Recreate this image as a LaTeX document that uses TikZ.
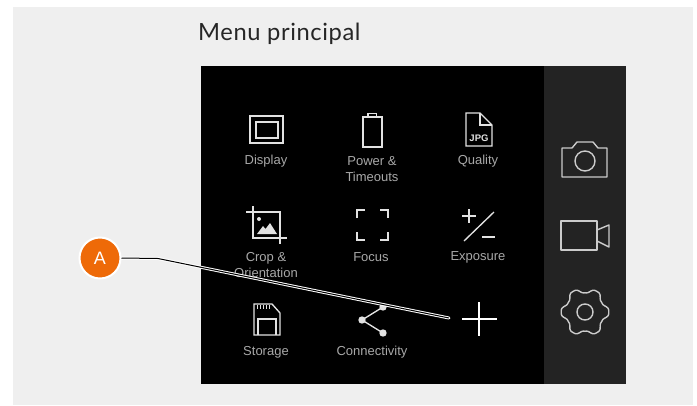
\documentclass[tikz,border=0pt]{standalone}
\usepackage{fontspec}
\setmainfont{Liberation Sans}
\newfontfamily\titlefont[LetterSpace=2.5]{Lato}
\definecolor{pagegrey}{HTML}{EFEFEF}
\definecolor{paneldark}{HTML}{232323}
\definecolor{labelgrey}{HTML}{A8A8A8}
\definecolor{iconline}{HTML}{E2E2E2}
\definecolor{badge}{HTML}{EE6A08}
\tikzset{
  icon/.style={draw=iconline,line width=1.35pt,line join=miter},
  sideicon/.style={draw=iconline!90!black,line width=1.4pt,line join=round},
  menulabel/.style={text=labelgrey,font=\fontsize{13}{15}\selectfont,align=center,inner sep=0pt,anchor=center},
}
\begin{document}
\begin{tikzpicture}[x=1pt,y=-1pt]
\useasboundingbox (0,0) rectangle (697,405);
\fill[white] (0,0) rectangle (697,405);
\fill[pagegrey] (13,7) rectangle (693,405);
\fill[black] (201,66) rectangle (544,384);
\fill[paneldark] (544,66) rectangle (626,384);
\node[anchor=base west,inner sep=0pt,text=black!85,font=\titlefont\fontsize{23.7}{26}\selectfont] (title) at (198,40) {Menu principal};
% Display
\draw[icon] (250,116) rectangle (283,143);
\draw[icon] (256,122) rectangle (278,138);
\node[menulabel] (display) at (266,161.5) {Display};
% Battery
\draw[icon] (363,117) rectangle (382,147);
\draw[icon] (368,117) -- (368,113.5) -- (376.5,113.5) -- (376.5,117);
\node[menulabel] (power) at (372,169.5) {Power \&\\[1pt]Timeouts};
% JPG
\draw[icon] (466,113) -- (480,113) -- (492,125) -- (492,146) -- (466,146) -- cycle;
\draw[icon] (480,113) -- (480,125) -- (492,125);
\node[inner sep=0pt,text=iconline,font=\bfseries\fontsize{9.5}{9.5}\selectfont] (jpg) at (479,138) {JPG};
\node[menulabel] (quality) at (478,161.5) {Quality};
% Crop
\draw[icon] (246,212) -- (280,212) -- (280,244);
\draw[icon] (253,206) -- (253,238) -- (287,238);
\fill[iconline] (257,234) -- (263,226) -- (265.5,229) -- (270,223) -- (277,234) -- cycle;
\fill[iconline] (259,219) circle (2);
\node[menulabel] (crop) at (266,265) {Crop \&\\[1pt]Orientation};
% Focus
\draw[icon] (357,218) -- (357,210) -- (365,210);
\draw[icon] (380,210) -- (388,210) -- (388,218);
\draw[icon] (357,232) -- (357,240) -- (365,240);
\draw[icon] (380,240) -- (388,240) -- (388,232);
\node[menulabel] (focus) at (371,257.5) {Focus};
% Exposure
\draw[icon] (462,216) -- (476,216);
\draw[icon] (469,209) -- (469,223);
\draw[icon] (464,241) -- (494,212);
\draw[icon] (482,237) -- (495,237);
\node[menulabel] (exposure) at (478,257.5) {Exposure};
% Storage
\draw[icon] (254,304) -- (272,304) -- (280,313) -- (280,335) -- (254,335) -- cycle;
\draw[icon] (258,335) -- (258,319) -- (276,319) -- (276,335);
\foreach \tx in {257,260,263,266,269}{\draw[draw=iconline,line width=1pt] (\tx,305) -- (\tx,309);}
\node[menulabel] (storage) at (266,352) {Storage};
% Connectivity
\coordinate (hub) at (362,320);
\coordinate (leafa) at (383,307);
\coordinate (leafb) at (383,333);
\draw[icon] (leafa) -- (hub) -- (leafb);
\fill[iconline] (hub) circle (3.7) (leafa) circle (3.7) (leafb) circle (3.7);
\node[menulabel] (connectivity) at (372,352) {Connectivity};
% Plus
\draw[draw=white,line width=1.8pt] (462,319) -- (497,319);
\draw[draw=white,line width=1.8pt] (479,302) -- (479,336);
% Side icons
\draw[sideicon] (562,148) -- (572,148) -- (577,142) -- (593,142) -- (598,148) -- (607,148) -- (607,177) -- (562,177) -- cycle;
\draw[sideicon] (585,161) circle (10);
\draw[sideicon] (561,221) rectangle (597,250);
\draw[sideicon] (597,230) -- (609,225) -- (609,247) -- (597,241);
\draw[sideicon] plot[domain=0:360,samples=181,smooth cycle] ({585+(21.5+2.6*(cos(6*\x)-0.12*cos(18*\x)))*cos(\x)},{312+(21.5+2.6*(cos(6*\x)-0.12*cos(18*\x)))*sin(\x)});
\draw[sideicon] (585,312) circle (8);
% Callout
\node[circle,fill=badge,draw=white,line width=2pt,minimum size=41pt,inner sep=0pt,text=white,font=\fontsize{18}{18}\selectfont] (A) at (100,258) {A};
\coordinate (bend) at (158,258.5);
\coordinate (tip) at (449,318);
\draw[draw=white,line width=3pt,line cap=round,line join=round,shift={(0,0.5)}] (A.east) -- (bend) -- (tip);
\draw[draw=black,line width=1pt,line join=round] (A.east) -- (bend) -- (tip);
\end{tikzpicture}
\end{document}
